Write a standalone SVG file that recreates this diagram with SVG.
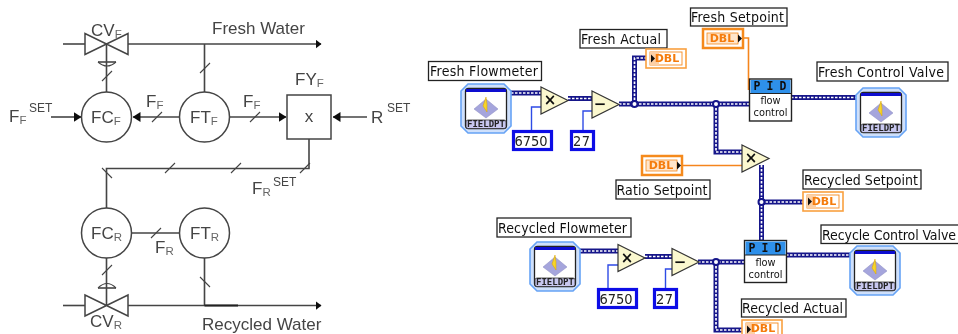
<svg xmlns="http://www.w3.org/2000/svg" width="958" height="334" viewBox="0 0 958 334">
<style>
.p{fill:none;stroke:#444;stroke-width:1.6}
.c{fill:#fff;stroke:#444;stroke-width:1.5}
.s{fill:none;stroke:#444;stroke-width:1.1}
.t{font-family:"Liberation Sans",Arial,sans-serif;font-size:17px;fill:#444}
.sub{font-size:11.5px;fill:#666}
.sup{font-family:"Liberation Sans",Arial,sans-serif;font-size:12px;fill:#444}
.l{font-family:"DejaVu Sans",Verdana,sans-serif;font-stretch:condensed;font-size:14px;fill:#111}
.lb{fill:#fff;stroke:#222;stroke-width:1.3}
.wo{fill:none;stroke:#14148a;stroke-width:5}
.wi{fill:none;stroke:#fff;stroke-width:1.7;stroke-dasharray:2.5 1.5}
.tw{fill:none;stroke:#2f4be6;stroke-width:1.4}
.ow{fill:none;stroke:#f5851a;stroke-width:1.6}
.tri{fill:#fbf8cf;stroke:#333;stroke-width:1.2}
.num{fill:#fff;stroke:#1010e6;stroke-width:3.2}
.nt{font-family:"DejaVu Sans",Verdana,sans-serif;font-stretch:condensed;font-size:14.5px;fill:#222}
.op{font-family:"DejaVu Sans",Verdana,sans-serif;font-size:15px;font-weight:bold;fill:#111;text-anchor:middle}
.d{font-family:"DejaVu Sans",Verdana,sans-serif;font-size:11px;font-weight:bold;fill:#f57c0a;text-anchor:middle}
.pidh{font-family:"DejaVu Sans Mono","Liberation Mono",monospace;font-size:11.5px;font-weight:bold;fill:#111;text-anchor:middle;letter-spacing:6px}
.pidt{font-family:"DejaVu Sans",Verdana,sans-serif;font-size:9.800px;fill:#111;text-anchor:middle}
.fd{font-family:"DejaVu Sans Mono","Liberation Mono",monospace;font-size:9px;font-weight:bold;fill:#222;text-anchor:middle}
</style>
<defs>
<filter id="soft" filterUnits="userSpaceOnUse" x="0" y="0" width="958" height="334"><feGaussianBlur stdDeviation="0.45"/></filter>
<marker id="ah" markerWidth="8" markerHeight="10" refX="7.500" refY="5" orient="auto" markerUnits="userSpaceOnUse"><path d="M0,0L8,5L0,10z" fill="#111"/></marker>
<marker id="ah2" markerWidth="6" markerHeight="9" refX="5.500" refY="4.500" orient="auto" markerUnits="userSpaceOnUse"><path d="M0,0L6,4.500L0,9z" fill="#111"/></marker>
<g id="valve"><path class="c" d="M85,-10.500V10.500L128,-10.500V10.500z"/></g>
<g id="fp">
<path d="M7,0H43L50,7V42L43,49H7L0,42V7z" fill="#cfe0fb" stroke="#66a3f5" stroke-width="1.600"/>
<rect x="4.500" y="4.500" width="41" height="40" rx="3" fill="#fff" stroke="#222" stroke-width="1.300"/>
<rect x="5" y="5" width="40" height="3" fill="#0a0ad0"/>
<path d="M25,15L37,25L25,34L13,25z" fill="#a5a5dc" stroke="#8a8ac0" stroke-width=".5"/>
<path d="M25,13L22,22L26,28V20z" fill="#f6d52a" stroke="#d8a000" stroke-width=".5"/>
<rect x="5" y="36" width="40" height="8.500" rx="2" fill="#c8c8f0" stroke="#333" stroke-width=".8"/>
</g>
<g id="dblc">
<rect x="1" y="1" width="40" height="19" fill="#fff" stroke="#f58a1f" stroke-width="2.500"/>
<rect x="5" y="5" width="31" height="11" fill="#ffe6cc" stroke="#f58a1f" stroke-width=".8"/>
<path d="M36,6.500L40,10.500L36,14.500z" fill="#111"/>
</g>
<g id="dbli">
<rect x="1" y="1" width="40" height="19" fill="#fff" stroke="#f9a040" stroke-width="1.600"/>
<rect x="5" y="4" width="32" height="13" fill="#fff" stroke="#f58a1f" stroke-width=".9"/>
<rect x="5" y="4" width="9" height="13" fill="#fdd0a5"/>
<path d="M6,6.500L10,10.500L6,14.500z" fill="#111"/>
</g>
<g id="pid">
<rect x="0" y="0" width="42" height="42" fill="#fff" stroke="#222" stroke-width="1.400"/>
<rect x="1" y="1" width="40" height="13.500" fill="#2f90ea"/>
<path d="M0,14.500H42" stroke="#222" stroke-width="1"/>
</g>
<g id="ftri"><path class="tri" d="M0,0L27,13.500L0,27z"/></g>
</defs>
<rect width="958" height="334" fill="#fff"/>
<g id="diagram" filter="url(#soft)">
<g id="connectors">
<path class="p" d="M63,44H85"/>
<path class="p" d="M128,44H321" marker-end="url(#ah2)"/>
<path class="p" d="M106.500,44V92M204.500,44V92"/>
<path class="p" d="M179,117H133" marker-end="url(#ah)"/>
<path class="p" d="M230,117H286" marker-end="url(#ah)"/>
<path class="p" d="M51,117H81" marker-end="url(#ah)"/>
<path class="p" d="M367,117H333" marker-end="url(#ah)"/>
<path class="p" d="M309,139V168.500H106.500V208"/>
<path class="p" d="M132,233H179"/>
<path class="p" d="M106.500,258V305M204.500,258V305.500"/>
<path class="p" d="M63,305.500H85"/>
<path class="p" d="M128,305.500H321" marker-end="url(#ah2)"/>
<path d="M204.500,305.500H238" fill="none" stroke="#222" stroke-width="1.800"/>
<path class="s" d="M102,81L112,71M200,73L210,63M152,122L162,112M250,122L260,112M165,173L175,163M231,173L241,163M300,173L310,163M102,168L112,178M102,275L112,265M200,277L210,287M151,238L161,228"/>
<path class="wo" d="M511,93H541M568,98.500H592M619,104H749M634.500,104V58H648M716,104V152H742M791,97.500H856M761.500,165V241M761.500,202H805M580,251H618M645,256.500H672M698,262H744M716,262V330H742M786,255H851"/>
<path class="wi" d="M511,93H541M568,98.500H592M619,104H749M634.500,104V58H648M716,104V152H742M791,97.500H856M761.500,165V241M761.500,202H805M580,251H618M645,256.500H672M698,262H744M716,262V330H742M786,255H851"/>
<circle cx="634.500" cy="104" r="3" fill="#fff" stroke="#14148a" stroke-width="2"/>
<circle cx="716" cy="104" r="3" fill="#fff" stroke="#14148a" stroke-width="2"/>
<circle cx="761.500" cy="202" r="3" fill="#fff" stroke="#14148a" stroke-width="2"/>
<circle cx="716" cy="262" r="3" fill="#fff" stroke="#14148a" stroke-width="2"/>
<path class="tw" d="M531.500,130V107H541M583,130V111H592M608,288V265H618M665.500,288V269H672"/>
<path class="ow" d="M743,38H748.500V90M683,165.500H742"/>
</g>

<g id="cv-f"><use href="#valve" y="44"/>
<path class="p" d="M98,62H116"/><path class="s" d="M98,62Q107,70 116,62"/>
<text class="t" x="91" y="36">CV<tspan class="sub" dy="2">F</tspan></text></g>
<g id="fc-f"><circle class="c" cx="106.500" cy="117" r="25"/><text class="t" x="91" y="123">FC<tspan class="sub" dy="2">F</tspan></text></g>
<g id="ft-f"><circle class="c" cx="204.500" cy="117" r="25"/><text class="t" x="190" y="123">FT<tspan class="sub" dy="2">F</tspan></text></g>
<g id="fy-f"><rect class="c" x="287" y="95" width="44" height="44"/><text class="t" x="309" y="122" text-anchor="middle">x</text>
<text class="t" x="295" y="85">FY<tspan class="sub" dy="2">F</tspan></text></g>
<g id="fc-r"><circle class="c" cx="106.500" cy="233" r="25"/><text class="t" x="91" y="239">FC<tspan class="sub" dy="2">R</tspan></text></g>
<g id="ft-r"><circle class="c" cx="204.500" cy="233" r="25"/><text class="t" x="190" y="239">FT<tspan class="sub" dy="2">R</tspan></text></g>
<g id="cv-r"><use href="#valve" y="305.500"/>
<path class="p" d="M98,288H116"/><path class="s" d="M98,288Q107,279 116,288"/>
<text class="t" x="90" y="327">CV<tspan class="sub" dy="2">R</tspan></text></g>
<g id="labels-left">
<text class="t" x="212" y="34">Fresh Water</text>
<text class="t" x="202" y="330">Recycled Water</text>
<text class="t" x="9" y="122">F<tspan class="sub" dy="2">F</tspan></text><text class="sup" x="29" y="112">SET</text>
<text class="t" x="371" y="123">R</text><text class="sup" x="387" y="112">SET</text>
<text class="t" x="146" y="107">F<tspan class="sub" dy="2">F</tspan></text>
<text class="t" x="243" y="107">F<tspan class="sub" dy="2">F</tspan></text>
<text class="t" x="252" y="194">F<tspan class="sub" dy="2">R</tspan></text><text class="sup" x="273" y="186">SET</text>
<text class="t" x="155" y="253">F<tspan class="sub" dy="2">R</tspan></text>
</g>

<g id="fresh-flowmeter"><rect class="lb" x="428.500" y="61.500" width="113" height="19"/><text class="l" x="430" y="76" textLength="108">Fresh Flowmeter</text>
<use href="#fp" x="461" y="84"/><text class="fd" x="486" y="127">FIELDPT</text></g>
<g id="mul-1"><use href="#ftri" x="541" y="87"/><text class="op" x="550" y="105">×</text></g>
<g id="sub-1"><use href="#ftri" x="592" y="91"/><text class="op" x="600" y="109">−</text></g>
<g id="k6750-1"><rect class="num" x="513.500" y="131.500" width="38" height="18"/><text class="nt" x="514.500" y="146" textLength="33">6750</text></g>
<g id="k27-1"><rect class="num" x="571.500" y="131.500" width="22" height="18"/><text class="nt" x="573" y="146" textLength="17">27</text></g>
<g id="fresh-actual"><rect class="lb" x="580" y="29.500" width="87" height="18.500"/><text class="l" x="581" y="44" textLength="80">Fresh Actual</text>
<use href="#dbli" x="645" y="48"/><text class="d" x="667" y="62">DBL</text></g>
<g id="fresh-setpoint"><rect class="lb" x="690.500" y="8" width="96.500" height="18"/><text class="l" x="691" y="22" textLength="93">Fresh Setpoint</text>
<use href="#dblc" x="702" y="28"/><text class="d" x="722" y="42">DBL</text></g>
<g id="pid-f"><use href="#pid" x="749.500" y="79"/><text class="pidh" x="773" y="90">PID</text><text class="pidt" x="770.500" y="104">flow</text><text class="pidt" x="770.500" y="115.500">control</text></g>
<g id="fresh-valve"><rect class="lb" x="817" y="62" width="131" height="19"/><text class="l" x="818" y="77" textLength="126">Fresh Control Valve</text>
<use href="#fp" x="856" y="88"/><text class="fd" x="881" y="131">FIELDPT</text></g>
<g id="ratio-setpoint"><rect class="lb" x="616" y="180" width="94" height="19"/><text class="l" x="616.500" y="195" textLength="91">Ratio Setpoint</text>
<use href="#dblc" x="641" y="155"/><text class="d" x="661" y="169">DBL</text></g>
<g id="mul-2"><use href="#ftri" x="742" y="145"/><text class="op" x="751" y="163">×</text></g>
<g id="recycled-setpoint"><rect class="lb" x="803" y="170" width="118" height="19"/><text class="l" x="804" y="185" textLength="114">Recycled Setpoint</text>
<use href="#dbli" x="802" y="191"/><text class="d" x="824" y="205">DBL</text></g>
<g id="recycled-flowmeter"><rect class="lb" x="497" y="218" width="134" height="19"/><text class="l" x="498" y="233" textLength="129">Recycled Flowmeter</text>
<use href="#fp" x="530" y="242"/><text class="fd" x="555" y="285">FIELDPT</text></g>
<g id="mul-3"><use href="#ftri" x="618" y="244.500"/><text class="op" x="627" y="263">×</text></g>
<g id="sub-2"><use href="#ftri" x="672" y="248.500"/><text class="op" x="680" y="267">−</text></g>
<g id="k6750-2"><rect class="num" x="598.500" y="289.500" width="38" height="18"/><text class="nt" x="599.500" y="304" textLength="33">6750</text></g>
<g id="k27-2"><rect class="num" x="654.500" y="289.500" width="22" height="18"/><text class="nt" x="656" y="304" textLength="17">27</text></g>
<g id="pid-r"><use href="#pid" x="744.500" y="240.500"/><text class="pidh" x="768" y="252">PID</text><text class="pidt" x="765.500" y="266">flow</text><text class="pidt" x="765.500" y="277.500">control</text></g>
<g id="recycle-valve"><rect class="lb" x="821" y="225" width="140" height="18.500"/><text class="l" x="822" y="240" textLength="134">Recycle Control Valve</text>
<use href="#fp" x="850" y="246"/><text class="fd" x="875" y="289">FIELDPT</text></g>
<g id="recycled-actual"><rect class="lb" x="741.500" y="299" width="104.500" height="18"/><text class="l" x="742" y="313" textLength="101">Recycled Actual</text>
<use href="#dbli" x="741" y="319"/><text class="d" x="763" y="331.500">DBL</text></g>
</g>
</svg>
